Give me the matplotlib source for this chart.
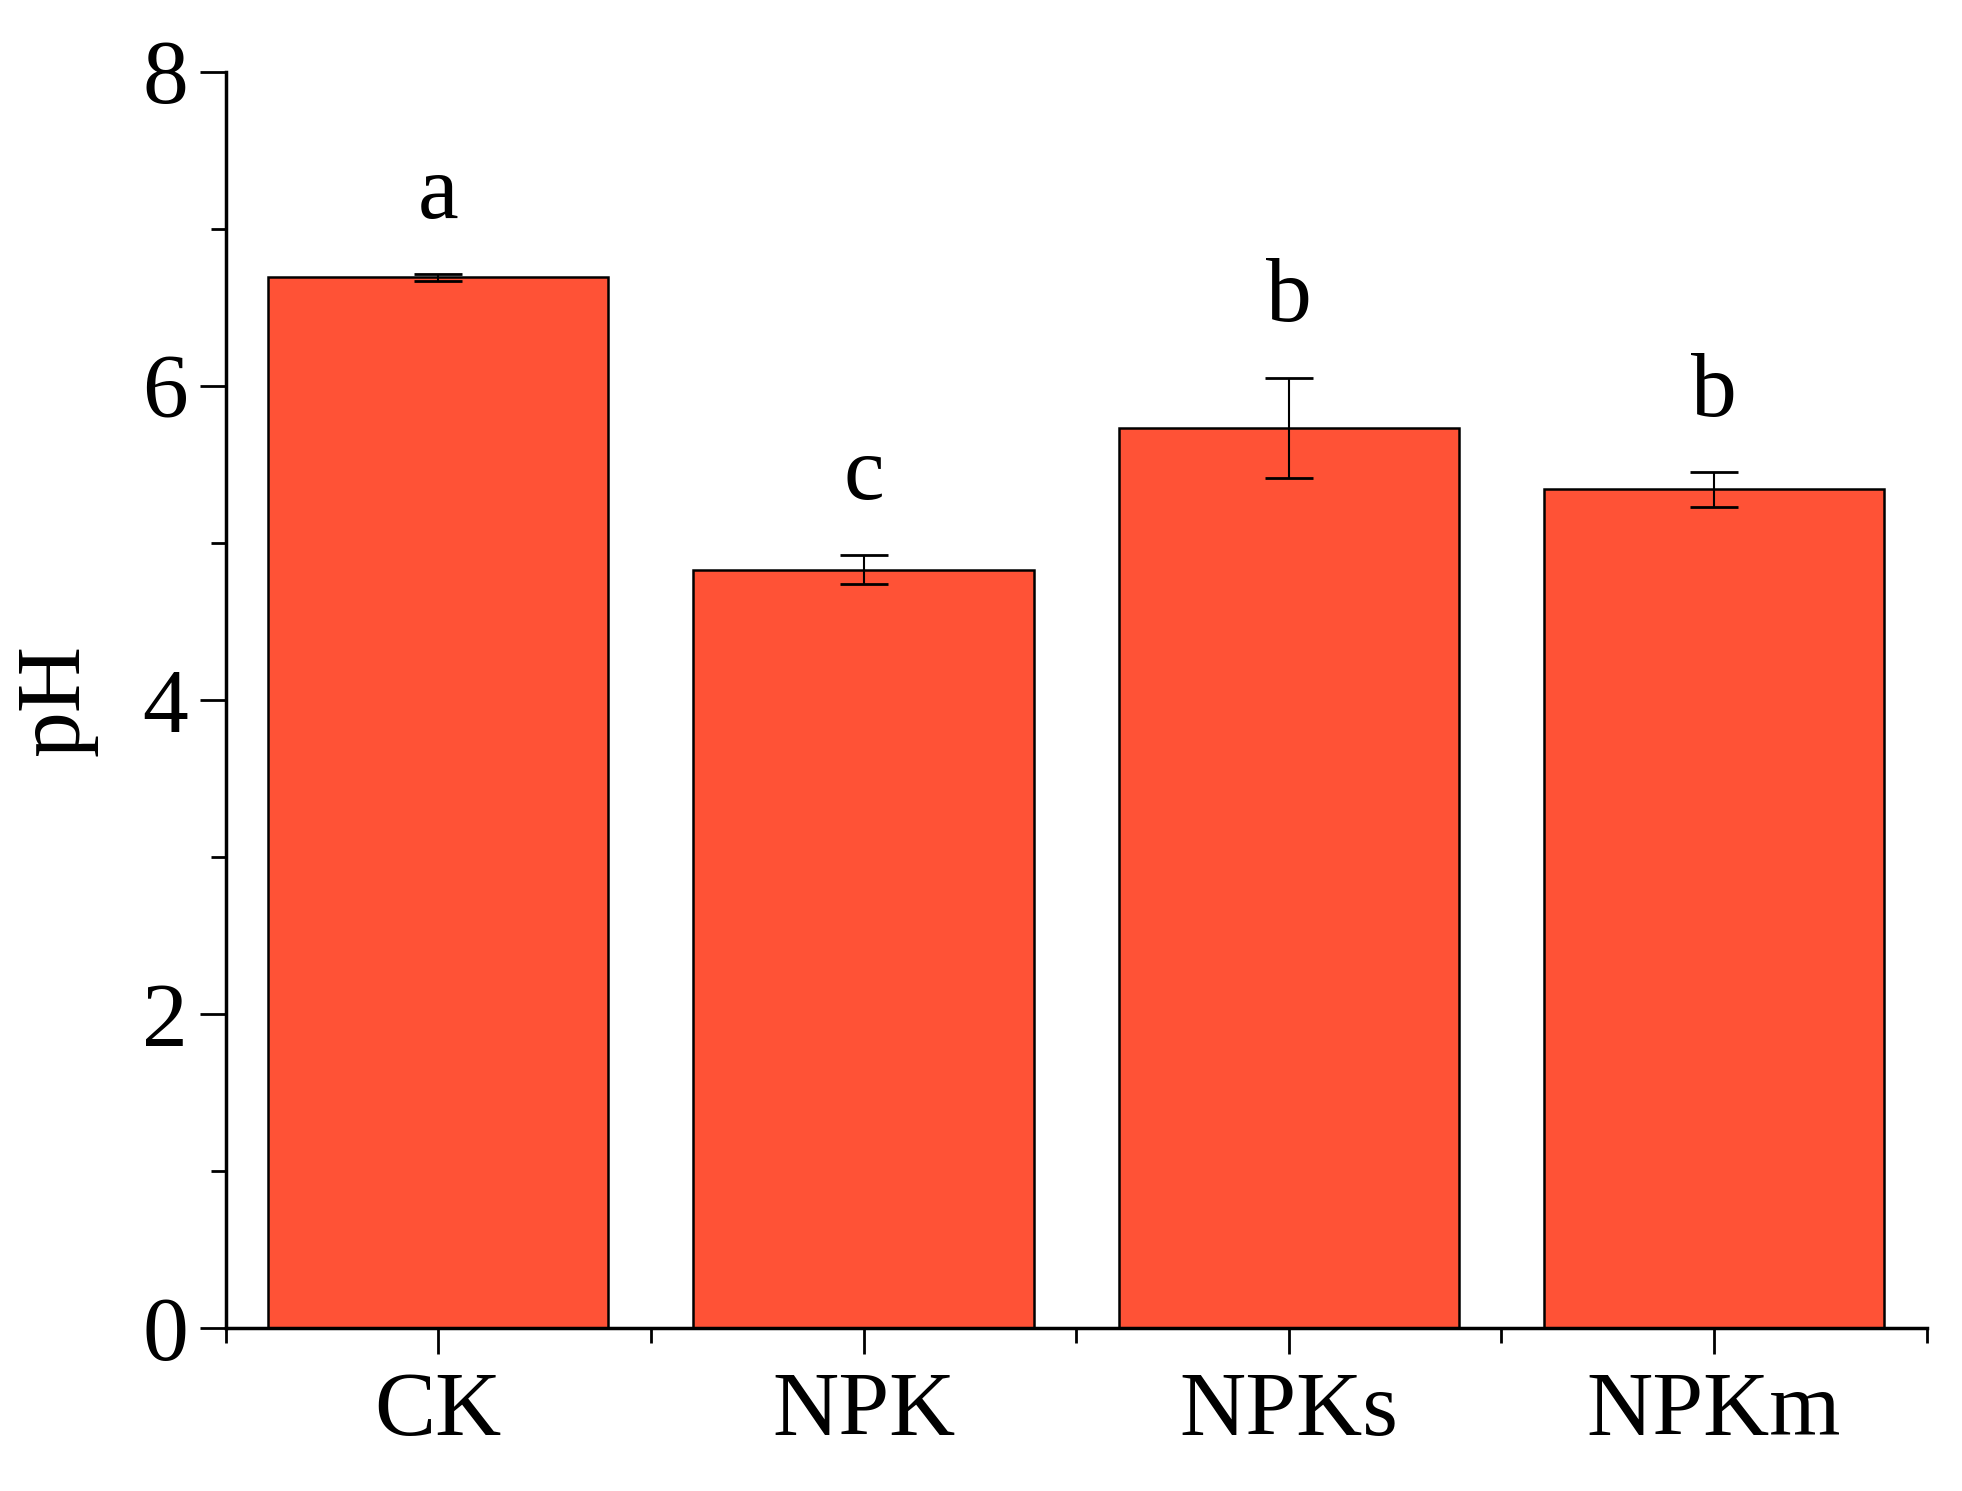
import numpy as np
import matplotlib
matplotlib.use('Agg')
import matplotlib.pyplot as plt
from matplotlib.ticker import MultipleLocator

# data
treatments = ['CK', 'NPK', 'NPKs', 'NPKm']
ph_mean = [6.69, 4.83, 5.73, 5.34]
ph_err = [0.02, 0.09, 0.32, 0.11]
sig_letters = ['a', 'c', 'b', 'b']

plt.rcParams['font.family'] = 'serif'
plt.rcParams['font.serif'] = ['Liberation Serif', 'Times New Roman', 'DejaVu Serif']

fig = plt.figure(figsize=(19.62, 14.91), dpi=100)
ax = fig.add_axes([0.115, 0.109, 0.867, 0.843])

x = np.arange(len(treatments))
ax.bar(x, ph_mean, width=0.8, color='#FF5236', edgecolor='black', linewidth=1.8, zorder=2)
ax.errorbar(x, ph_mean, yerr=ph_err, fmt='none', ecolor='black', elinewidth=1.5,
            capsize=17, capthick=2, zorder=3)

# letters of significance above the error bars
for xi, m, e, s in zip(x, ph_mean, ph_err, sig_letters):
    ax.text(xi, m + e + 0.36, s, ha='center', va='baseline', fontsize=66)

ax.set_xlim(-0.5, 3.5)
ax.set_ylim(0, 8)
ax.set_xticks(x)
ax.set_xticklabels(treatments)
ax.set_xticks(list(x - 0.5) + [3.5], minor=True)
ax.yaxis.set_major_locator(MultipleLocator(2))
ax.yaxis.set_minor_locator(MultipleLocator(1))

ax.spines['top'].set_visible(False)
ax.spines['right'].set_visible(False)
ax.spines['left'].set_linewidth(2.5)
ax.spines['bottom'].set_linewidth(2.5)

ax.tick_params(axis='both', which='major', direction='out', length=19, width=2,
               labelsize=66)
ax.tick_params(axis='both', which='minor', direction='out', length=11, width=2)
ax.tick_params(axis='x', which='major', pad=12)
ax.tick_params(axis='y', which='major', pad=8)

ax.set_ylabel('pH', fontsize=66, labelpad=32)

plt.savefig('out.png', dpi=100)
